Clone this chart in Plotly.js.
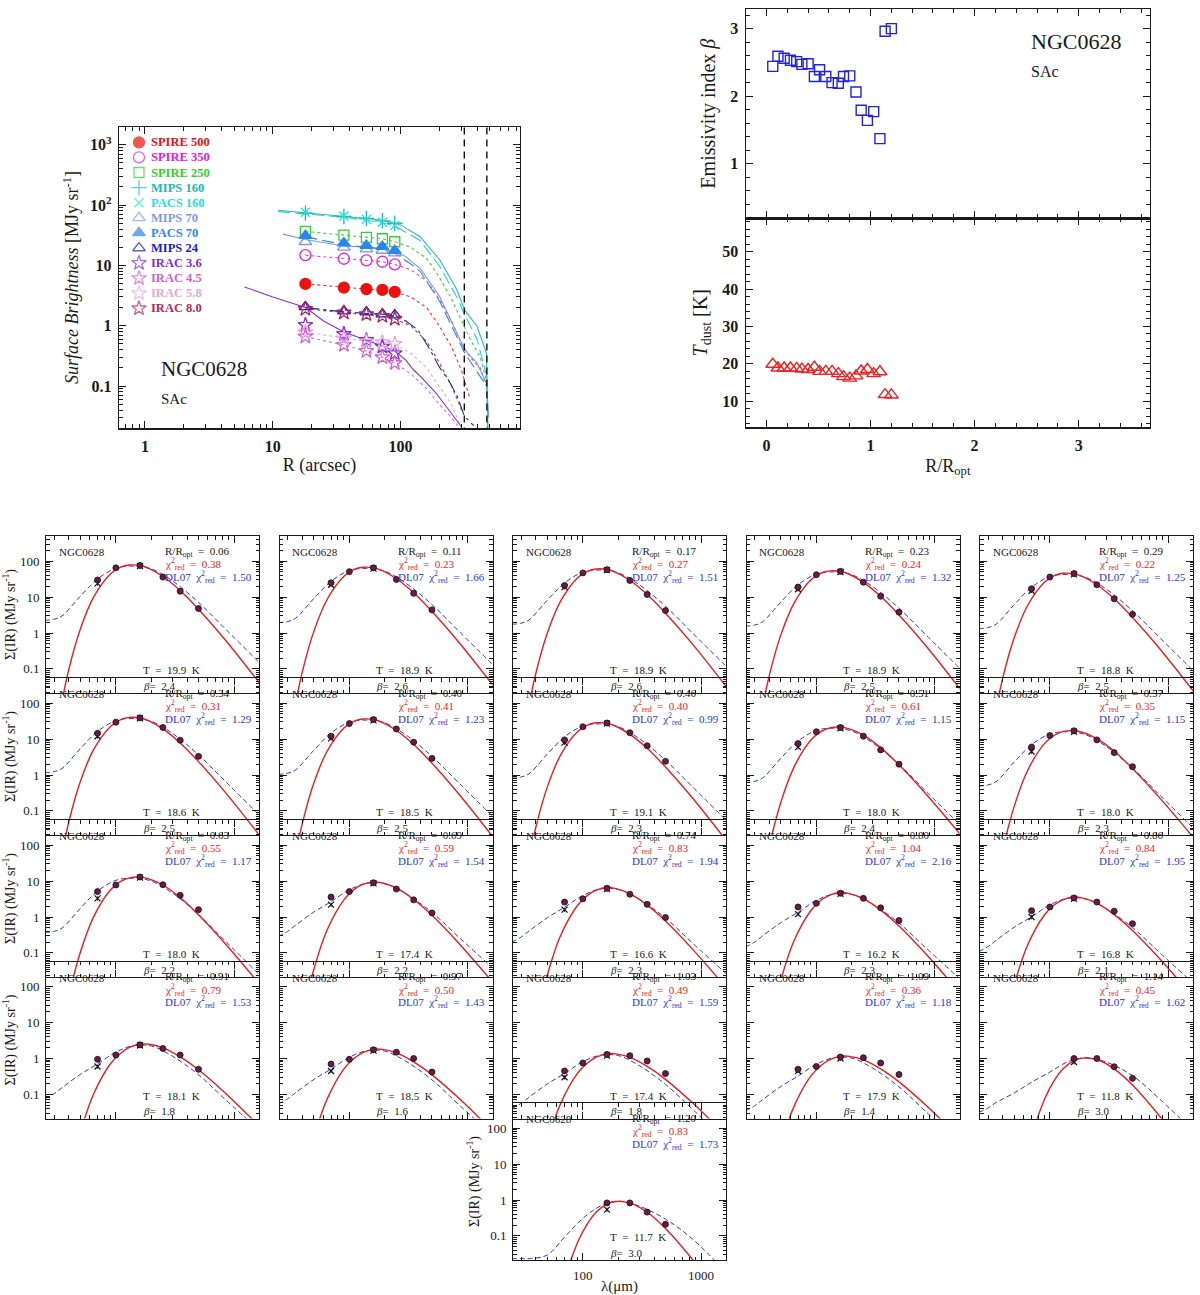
<!DOCTYPE html>
<html>
<head>
<meta charset="utf-8">
<script src="https://cdn.plot.ly/plotly-3.0.1.min.js"></script>
<style>
  html, body { margin: 0; padding: 0; background: #fff; }
  #fig { width: 1200px; height: 1295px; }
</style>
</head>
<body>
<div id="fig"></div>
<script>
  // ---------- radial profiles (top left) ----------
  const profR = [18, 36, 54, 72, 90];
  const spire500 = [4.95, 4.3, 4.05, 3.94, 3.65];
  const spire350 = [14.8, 12.9, 12.1, 11.5, 10.4];
  const spire250 = [36.6, 31.9, 29.1, 27.7, 24.7];
  const mips160 = [73.6, 64.7, 60, 55, 50];
  const pacs160 = [76, 66, 58, 52, 46];
  const mips70 = [24.7, 20, 18.6, 17.7, 16];
  const pacs70 = [31.3, 23.5, 21.4, 20.6, 17.7];
  const mips24 = [2.06, 1.75, 1.68, 1.56, 1.5];
  const irac36 = [1.03, 0.73, 0.58, 0.45, 0.35];
  const irac45 = [0.66, 0.48, 0.38, 0.3, 0.24];
  const irac58 = [0.78, 0.62, 0.55, 0.53, 0.5];
  const irac80 = [1.9, 1.65, 1.55, 1.45, 1.3];

  // continuous profiles
  const mips160LineR = [11, 18, 36, 54, 72, 90, 100, 142, 203, 275, 318, 396, 470, 482];
  const mips160Line = [82, 75, 66, 60, 56, 50, 47, 30, 12.3, 4, 1.8, 0.98, 0.35, 0.02];
  const pacs160LineR = [11, 18, 36, 54, 72, 90, 142, 203, 275, 318, 396, 470, 480];
  const pacs160Line = [78, 72, 63, 56, 51, 45, 26, 9.5, 3.0, 1.5, 0.6, 0.15, 0.02];
  const mips70LineR = [12, 18, 36, 54, 72, 90, 110, 125, 142, 203, 318, 396, 470, 490];
  const mips70Line = [33, 27, 21, 20, 18.5, 17, 14, 11, 9, 3.0, 0.4, 0.24, 0.11, 0.03];
  const pacs70LineR = [18, 36, 54, 72, 90, 125, 142, 203, 318, 470];
  const pacs70Line = [30, 22, 20, 19, 16, 10, 8, 2.5, 0.35, 0.1];
  const mips24LineR = [18, 36, 54, 72, 90, 110, 137, 170, 200, 240, 277, 315, 373];
  const mips24Line = [2.0, 1.7, 1.6, 1.55, 1.45, 1.2, 0.85, 0.4, 0.21, 0.12, 0.068, 0.032, 0.022];
  const irac36LineR = [6, 10, 18, 25, 36, 54, 72, 90, 110, 125, 150, 190, 240, 300];
  const irac36Line = [4.4, 3.0, 2.0, 1.2, 0.79, 0.58, 0.46, 0.38, 0.27, 0.19, 0.13, 0.076, 0.04, 0.021];
  const dottedR = [18, 36, 54, 72, 90, 120, 160, 200, 250, 300, 350, 420, 470];
  const spire500Line = [4.95, 4.3, 4.05, 3.94, 3.65, 3.0, 2.0, 1.0, 0.45, 0.18, 0.06, null, null];
  const spire350Line = [14.8, 12.9, 12.1, 11.5, 10.4, 8.5, 5.5, 2.8, 1.2, 0.5, 0.3, 0.2, 0.1];
  const spire250Line = [36.6, 31.9, 29.1, 27.7, 24.7, 20, 13, 6.5, 2.8, 1.2, 0.6, 0.3, 0.12];
  const irac45Line = [0.66, 0.48, 0.38, 0.3, 0.24, 0.16, 0.09, 0.05, 0.03, 0.018, null, null, null];
  const irac58Line = [0.78, 0.62, 0.55, 0.53, 0.5, 0.35, 0.2, 0.1, 0.05, 0.02, null, null, null];
  const irac80Line = [1.9, 1.65, 1.55, 1.45, 1.3, 1.0, 0.55, 0.25, 0.1, 0.04, null, null, null];
  const apertureR = [315, 473];

  // ---------- per-ring fit results ----------
  const radii = [0.06, 0.11, 0.17, 0.23, 0.29, 0.34, 0.40, 0.46, 0.51, 0.57, 0.63,
    0.69, 0.74, 0.80, 0.86, 0.91, 0.97, 1.03, 1.09, 1.14, 1.20];
  const betaFit = [2.44, 2.59, 2.56, 2.53, 2.51, 2.47, 2.48, 2.29, 2.39, 2.29, 2.20,
    2.19, 2.29, 2.30, 2.06, 1.79, 1.64, 1.77, 1.37, 2.96, 3.00];
  const tdust = [19.9, 18.9, 18.9, 18.9, 18.8, 18.6, 18.5, 19.1, 18.0, 18.0, 18.0,
    17.4, 16.6, 16.2, 16.8, 18.1, 18.5, 17.4, 17.9, 11.8, 11.7];
  const chiMbb = [0.38, 0.23, 0.27, 0.24, 0.22, 0.31, 0.41, 0.40, 0.61, 0.35, 0.55,
    0.59, 0.83, 1.04, 0.84, 0.79, 0.50, 0.49, 0.36, 0.45, 0.83];
  const chiDl07 = [1.50, 1.66, 1.51, 1.32, 1.25, 1.29, 1.23, 0.99, 1.15, 1.15, 1.17,
    1.54, 1.94, 2.16, 1.95, 1.53, 1.43, 1.59, 1.18, 1.62, 1.73];

  // ---------- SED panels ----------
  const bandWl = [70, 100, 160, 250, 350, 500];
  const mipsWl = [70, 160];
  const sedFlux = [
    [30, 65, 76, 36, 14.5, 4.8],
    [25, 51, 65, 31, 12.7, 4.4],
    [21, 47, 58, 29, 11.8, 4.2],
    [19, 42, 52, 26, 10.5, 3.8],
    [17, 36, 45, 22, 9.0, 3.3],
    [14.5, 29.5, 39, 21, 9.3, 3.3],
    [12, 27, 35, 19, 8.2, 2.9],
    [9.5, 22, 28, 15, 6.5, 2.4],
    [7.5, 16, 21, 12, 5.0, 2.0],
    [6.0, 12.5, 17, 9.5, 4.2, 1.7],
    [5.1, 7.8, 13, 7.9, 4.0, 1.6],
    [3.6, 5.1, 9.0, 6.0, 3.0, 1.3],
    [2.6, 3.2, 6.3, 4.3, 2.25, 0.97],
    [1.9, 2.4, 4.6, 3.3, 1.8, 0.8],
    [1.5, 1.9, 3.4, 2.6, 1.45, 0.65],
    [0.95, 1.25, 2.4, 1.9, 1.25, 0.5],
    [0.7, 0.95, 1.75, 1.5, 1.0, 0.42],
    [0.45, 0.75, 1.3, 1.2, 0.85, 0.38],
    [0.5, 0.6, 1.1, 1.05, 0.75, 0.36],
    [null, null, 1.0, 1.0, 0.59, 0.28],
    [null, null, 0.83, 0.83, 0.46, 0.21]
  ];
  const mipsFlux = [
    [24, 73], [22, 62], [19, 56], [16.5, 50], [15, 43], [12, 38], [10.5, 33],
    [8, 27], [6, 20], [4.5, 16], [3.3, 12.5], [2.2, 8.6], [1.6, 6.0], [1.2, 4.4],
    [1.0, 3.2], [0.6, 2.3], [0.45, 1.65], [0.3, 1.2], [0.45, 1.0], [null, 0.8], [null, 0.54]
  ];
  const peakFlux = [80, 69, 62, 55, 47, 41, 37, 29, 22, 17.5, 13.2, 9.5, 6.6, 4.8, 3.6,
    2.5, 1.8, 1.35, 1.15, 1.05, 0.93];

  // fitted curves, read as log10(S / Speak) on a wavelength grid
  const mbbGrid = [32, 40, 50, 65, 90, 110, 130, 160, 190, 250, 350, 500, 850, 1700];
  const mbbA = [-4.45, -2.92, -1.80, -0.90, -0.26, -0.07, -0.01, -0.025, -0.105, -0.33, -0.72, -1.24, -2.11, -3.36];
  const mbbA2 = [-4.99, -3.33, -2.11, -1.11, -0.37, -0.13, -0.03, -0.01, -0.06, -0.23, -0.58, -1.06, -1.88, -3.05];
  const mbbB = [-5.56, -3.77, -2.44, -1.33, -0.50, -0.21, -0.07, 0, -0.03, -0.17, -0.49, -0.93, -1.72, -2.86];
  const mbbC = [-5.47, -3.75, -2.46, -1.38, -0.545, -0.25, -0.09, 0, 0, -0.10, -0.35, -0.71, -1.37, -2.34];
  const mbbD = [-9.1, -6.4, -4.33, -2.57, -1.16, -0.61, -0.30, -0.08, -0.01, -0.05, -0.31, -0.76, -1.63, -2.95];
  const mbbClass = ['A', 'A', 'A', 'A', 'A', 'A', 'A', 'A', 'A2', 'A2', 'A2',
    'B', 'B', 'B', 'B', 'C', 'C', 'C', 'C', 'D', 'D'];

  const dlGrid = [25, 30, 35, 50, 70, 100, 140, 200, 300, 500, 850, 1700];
  const dlInner = [-1.55, -1.52, -1.43, -0.88, -0.40, -0.10, -0.04, -0.12, -0.45, -1.05, -1.80, -2.78];
  const dlOuter = [-1.52, -1.38, -1.21, -0.84, -0.55, -0.22, -0.04, -0.05, -0.33, -0.85, -1.55, -2.45];
  const dlEdge = [-1.52, -1.40, -1.25, -0.98, -0.68, -0.40, -0.12, 0, -0.12, -0.50, -1.15, -2.10];
  const dlLast = [-1.6, -1.6, -1.6, -1.5, -1.0, -0.48, -0.14, 0, -0.14, -0.50, -1.06, -2.05];
  const dlClass = ['in', 'in', 'in', 'in', 'in', 'in', 'in', 'in', 'in', 'in', 'in',
    'out', 'out', 'out', 'out', 'out', 'out', 'out', 'out', 'edge', 'last'];

  const mbbShapes = { A: mbbA, A2: mbbA2, B: mbbB, C: mbbC, D: mbbD };
  const dlShapes = { in: dlInner, out: dlOuter, edge: dlEdge, last: dlLast };

  // ---------- helpers ----------
  const W = 1200, H = 1295;
  const fx = (p) => p / W;
  const fy = (p) => 1 - p / H;
  const serif = '"Liberation Serif", "DejaVu Serif", serif';
  const ink = '#1a1a1a';
  const nb = '\u00a0';

  function logMinor(lo, hi) {
    const out = [];
    for (let e = -3; e <= 4; e++) {
      for (let k = 2; k <= 9; k++) {
        const v = k * Math.pow(10, e);
        if (v > lo && v < hi) out.push(v);
      }
    }
    return out;
  }

  function frame(extra) {
    return Object.assign({
      showline: true, mirror: 'ticks', linecolor: ink, linewidth: 1.2,
      ticks: 'inside', tickcolor: ink, ticklen: 7, tickwidth: 1,
      showgrid: false, zeroline: false, fixedrange: true,
      tickfont: { family: serif, size: 16, color: ink, weight: 'bold' },
      ticklabelstandoff: 3
    }, extra);
  }

  const traces = [];
  const layout = {
    width: W, height: H,
    margin: { l: 0, r: 0, t: 0, b: 0 },
    paper_bgcolor: '#fff', plot_bgcolor: 'rgba(0,0,0,0)',
    showlegend: false,
    annotations: [],
    font: { family: serif, color: ink }
  };

  // ---------- top-left: surface brightness ----------
  layout.xaxis = frame({
    domain: [fx(119), fx(520)], anchor: 'y', type: 'log', range: [-0.203, 2.934],
    tickvals: [1, 10, 100], ticktext: ['1', '10', '100'],
    minor: { ticks: 'inside', ticklen: 4, tickcolor: ink, tickvals: logMinor(0.5, 900) },
    title: { text: 'R (arcsec)', font: { family: serif, size: 18, color: ink }, standoff: 4 }
  });
  layout.yaxis = frame({
    domain: [fy(428.3), fy(126.7)], anchor: 'x', type: 'log', range: [-1.70, 3.30],
    tickvals: [0.1, 1, 10, 100, 1000], ticktext: ['0.1', '1', '10', '10<sup>2</sup>', '10<sup>3</sup>'],
    minor: { ticks: 'inside', ticklen: 4, tickcolor: ink, tickvals: logMinor(0.015, 2100) },
    title: { text: '<i>Surface Brightness</i> [MJy sr<sup>-1</sup>]', font: { family: serif, size: 18, color: ink }, standoff: 6 }
  });

  const bands = [
    { name: 'SPIRE 500', y: spire500, color: '#f01010', symbol: 'circle', size: 11 },
    { name: 'SPIRE 350', y: spire350, color: '#e020e0', symbol: 'circle-open', size: 11 },
    { name: 'SPIRE 250', y: spire250, color: '#30d030', symbol: 'square-open', size: 10 },
    { name: 'MIPS 160', y: mips160, color: '#20b8b0', symbol: 'cross-thin-open', size: 11 },
    { name: 'PACS 160', y: pacs160, color: '#20e0e8', symbol: 'x-thin-open', size: 9 },
    { name: 'MIPS 70', y: mips70, color: '#7a9ae0', symbol: 'triangle-up-open', size: 11 },
    { name: 'PACS 70', y: pacs70, color: '#2d86f0', symbol: 'triangle-up', size: 11 },
    { name: 'MIPS 24', y: mips24, color: '#1a1ad0', symbol: 'triangle-up-open', size: 11 },
    { name: 'IRAC 3.6', y: irac36, color: '#8a2ad0', symbol: 'star-open', size: 11 },
    { name: 'IRAC 4.5', y: irac45, color: '#d060d0', symbol: 'star-open', size: 11 },
    { name: 'IRAC 5.8', y: irac58, color: '#eaa6dc', symbol: 'star-open', size: 11 },
    { name: 'IRAC 8.0', y: irac80, color: '#b02858', symbol: 'star-open', size: 11 }
  ];

  const profLines = [
    { x: dottedR, y: spire500Line, color: '#f03030', dash: 'dot' },
    { x: dottedR, y: spire350Line, color: '#d040d0', dash: 'dot' },
    { x: dottedR, y: spire250Line, color: '#40cc40', dash: 'dot' },
    { x: dottedR, y: irac45Line, color: '#d070d0', dash: 'dot' },
    { x: dottedR, y: irac58Line, color: '#e8a8dc', dash: 'dot' },
    { x: dottedR, y: irac80Line, color: '#a04070', dash: 'dot' },
    { x: mips70LineR, y: mips70Line, color: '#7a9ae0', dash: 'solid' },
    { x: pacs70LineR, y: pacs70Line, color: '#3a80e0', dash: '12px,5px' },
    { x: pacs160LineR, y: pacs160Line, color: '#28d0d8', dash: '12px,5px' },
    { x: mips160LineR, y: mips160Line, color: '#28c0a8', dash: 'solid' },
    { x: mips24LineR, y: mips24Line, color: '#222a90', dash: '14px,4px,3px,4px' },
    { x: irac36LineR, y: irac36Line, color: '#8a30d8', dash: 'solid' }
  ];
  profLines.forEach((l) => traces.push({
    x: l.x, y: l.y, xaxis: 'x', yaxis: 'y', mode: 'lines', connectgaps: false,
    line: { color: l.color, width: 1.1, dash: l.dash }, hoverinfo: 'skip'
  }));
  apertureR.forEach((r) => traces.push({
    x: [r, r], y: [0.01, 5000], xaxis: 'x', yaxis: 'y', mode: 'lines',
    line: { color: '#111', width: 1.4, dash: '7px,5px' }, hoverinfo: 'skip'
  }));
  bands.forEach((b) => traces.push({
    x: profR, y: b.y, xaxis: 'x', yaxis: 'y', mode: 'markers', name: b.name,
    marker: { symbol: b.symbol, size: b.size, color: b.color, line: { color: b.color, width: 1.3 } }
  }));

  // legend drawn on its own hidden axes so spacing matches the original
  layout.xaxis25 = { domain: [fx(130), fx(230)], range: [130, 230], visible: false, anchor: 'y25', fixedrange: true };
  layout.yaxis25 = { domain: [fy(320), fy(135)], range: [320, 135], visible: false, anchor: 'x25', fixedrange: true };
  const legY0 = 142.3, legStep = 15.1;
  traces.push({
    x: bands.map(() => 139), y: bands.map((b, i) => legY0 + i * legStep),
    xaxis: 'x25', yaxis: 'y25', mode: 'markers', hoverinfo: 'skip',
    marker: {
      symbol: bands.map((b) => b.symbol), size: bands.map((b) => b.size),
      color: bands.map((b) => b.color), line: { color: bands.map((b) => b.color), width: 1.3 }
    }
  });
  bands.forEach((b, i) => layout.annotations.push({
    xref: 'paper', yref: 'paper', x: fx(149), y: fy(legY0 + i * legStep),
    xanchor: 'left', yanchor: 'middle', showarrow: false, text: '<b>' + b.name.replace(' ', nb) + '</b>',
    font: { family: serif, size: 12.5, color: b.color }
  }));
  layout.annotations.push(
    { xref: 'paper', yref: 'paper', x: fx(159), y: fy(368.5), xanchor: 'left', yanchor: 'middle',
      showarrow: false, text: 'NGC0628', font: { family: serif, size: 21, color: ink } },
    { xref: 'paper', yref: 'paper', x: fx(159), y: fy(398.5), xanchor: 'left', yanchor: 'middle',
      showarrow: false, text: 'SAc', font: { family: serif, size: 15, color: ink } }
  );

  // ---------- top-right: beta and T_dust ----------
  const rrRange = [-0.2, 3.686];
  layout.xaxis2 = frame({
    domain: [fx(745.7), fx(1150)], anchor: 'y2', range: rrRange, dtick: 1, tick0: 0,
    showticklabels: false, minor: { ticks: 'inside', ticklen: 4, tickcolor: ink, dtick: 0.2, tick0: 0 }
  });
  layout.yaxis2 = frame({
    domain: [fy(218.3), fy(9)], anchor: 'x2', range: [0.19, 3.29], dtick: 1, tick0: 0,
    minor: { ticks: 'inside', ticklen: 4, tickcolor: ink, dtick: 0.2, tick0: 0 },
    title: { text: 'Emissivity index <i>β</i>', font: { family: serif, size: 20, color: ink }, standoff: 9 }
  });
  layout.xaxis3 = frame({
    domain: [fx(745.7), fx(1150)], anchor: 'y3', range: rrRange, dtick: 1, tick0: 0,
    minor: { ticks: 'inside', ticklen: 4, tickcolor: ink, dtick: 0.2, tick0: 0 },
    title: { text: 'R/R<sub>opt</sub>', font: { family: serif, size: 18, color: ink }, standoff: 6 }
  });
  layout.yaxis3 = frame({
    domain: [fy(427.3), fy(218.3)], anchor: 'x3', range: [3.05, 58.9], dtick: 10, tick0: 0,
    minor: { ticks: 'inside', ticklen: 4, tickcolor: ink, dtick: 2, tick0: 0 },
    title: { text: '<i>T</i><sub>dust</sub> [K]', font: { family: serif, size: 20, color: ink }, standoff: 9 }
  });
  traces.push({
    x: radii, y: betaFit, xaxis: 'x2', yaxis: 'y2', mode: 'markers',
    marker: { symbol: 'square-open', size: 10, color: '#2222e0', line: { width: 1.4 } }
  });
  traces.push({
    x: radii, y: tdust, xaxis: 'x3', yaxis: 'y3', mode: 'markers',
    marker: { symbol: 'triangle-up-open', size: 12, color: '#f02020', line: { width: 1.4 } }
  });
  layout.annotations.push(
    { xref: 'paper', yref: 'paper', x: fx(1029), y: fy(41), xanchor: 'left', yanchor: 'middle',
      showarrow: false, text: 'NGC0628', font: { family: serif, size: 22, color: ink } },
    { xref: 'paper', yref: 'paper', x: fx(1029), y: fy(72), xanchor: 'left', yanchor: 'middle',
      showarrow: false, text: 'SAc', font: { family: serif, size: 16, color: ink } }
  );

  // ---------- SED grid ----------
  const colLeft = [46, 279.5, 513, 746.5, 980];
  const rowTop = [536, 678, 820, 961.5];
  const panelW = 213, panelH = 157;
  const sedXMinor = logMinor(20, 2000);
  const sedYMinor = logMinor(0.015, 600);
  const red = '#ec1c1c', blue = '#2c34dc';

  radii.forEach((rr, i) => {
    const n = i + 4;
    const last = i === radii.length - 1;
    const left = last ? 513 : colLeft[i % 5];
    const top = last ? 1103 : rowTop[Math.floor(i / 5)];
    const showY = last || i % 5 === 0;
    const sz = { family: serif, size: 13, color: ink };
    layout['xaxis' + n] = frame({
      domain: [fx(left), fx(left + panelW)], anchor: 'y' + n, type: 'log', range: [1.409, 3.211],
      linewidth: 1, ticklen: 7, tickvals: [100, 1000], ticktext: ['100', '1000'],
      showticklabels: last, tickfont: sz,
      minor: { ticks: 'inside', ticklen: 3.5, tickcolor: ink, tickvals: sedXMinor },
      title: last ? { text: 'λ(μm)', font: { family: serif, size: 15, color: ink }, standoff: 2 } : undefined
    });
    layout['yaxis' + n] = frame({
      domain: [fy(top + panelH), fy(top)], anchor: 'x' + n, type: 'log', range: [-1.67, 2.70],
      linewidth: 1, ticklen: 7, tickvals: [0.1, 1, 10, 100], ticktext: ['0.1', '1', '10', '100'],
      showticklabels: showY, tickfont: sz,
      minor: { ticks: 'inside', ticklen: 3.5, tickcolor: ink, tickvals: sedYMinor },
      title: showY ? { text: 'Σ(IR) (MJy sr<sup>-1</sup>)', font: { family: serif, size: 14, color: ink }, standoff: 4 } : undefined
    });

    const peak = peakFlux[i];
    const xr = 'x' + n, yr = 'y' + n;
    traces.push({
      x: dlGrid, y: dlShapes[dlClass[i]].map((v) => peak * Math.pow(10, v)),
      xaxis: xr, yaxis: yr, mode: 'lines', hoverinfo: 'skip',
      line: { color: blue, width: 1, dash: '5px,3px', shape: 'spline', smoothing: 1 }
    });
    traces.push({
      x: mbbGrid, y: mbbShapes[mbbClass[i]].map((v) => peak * Math.pow(10, v)),
      xaxis: xr, yaxis: yr, mode: 'lines', hoverinfo: 'skip',
      line: { color: red, width: 1.4, shape: 'spline', smoothing: 1 }
    });
    traces.push({
      x: mipsWl, y: mipsFlux[i], xaxis: xr, yaxis: yr, mode: 'markers', hoverinfo: 'skip',
      marker: { symbol: 'x-thin-open', size: 6, color: '#111', line: { color: '#111', width: 1.2 } },
      error_y: { type: 'percent', value: 14, thickness: 1, width: 0, color: '#333' }
    });
    traces.push({
      x: bandWl, y: sedFlux[i], xaxis: xr, yaxis: yr, mode: 'markers', hoverinfo: 'skip',
      marker: { symbol: 'circle', size: 6, color: '#6a1a44', line: { color: '#111', width: 0.8 } },
      error_y: { type: 'percent', value: 8, thickness: 1, width: 2, color: '#222' }
    });

    const dom = () => ({ xref: xr + ' domain', yref: yr + ' domain', showarrow: false, yanchor: 'middle', xanchor: 'left' });
    const small = (c) => ({ family: serif, size: 11, color: c });
    layout.annotations.push(
      Object.assign(dom(), { x: 0.05, y: 0.895, text: 'NGC0628', font: small(ink) }),
      Object.assign(dom(), { x: 0.548, y: 0.9, text: 'R/R<sub>opt</sub>' + nb + nb + '=' + nb + nb + rr.toFixed(2), font: small(ink) }),
      Object.assign(dom(), { x: 0.548, y: 0.82, text: 'χ<sup>2</sup><sub>red</sub>' + nb + nb + '=' + nb + nb + chiMbb[i].toFixed(2), font: small(red) }),
      Object.assign(dom(), { x: 0.548, y: 0.74, text: 'DL07' + nb + nb + 'χ<sup>2</sup><sub>red</sub>' + nb + nb + '=' + nb + nb + chiDl07[i].toFixed(2), font: small(blue) }),
      Object.assign(dom(), { x: 0.446, y: 0.146, text: 'T' + nb + nb + '=' + nb + nb + tdust[i].toFixed(1) + nb + nb + 'K', font: small(ink) }),
      Object.assign(dom(), { x: 0.446, y: 0.045, text: '<i>β</i>=' + nb + nb + betaFit[i].toFixed(1), font: small(ink) })
    );
  });

  Plotly.newPlot('fig', traces, layout, { staticPlot: true });
</script>
</body>
</html>
